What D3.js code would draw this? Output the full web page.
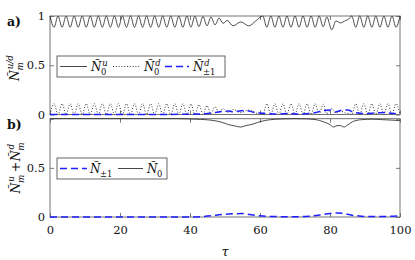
<!DOCTYPE html>
<html>
<head>
<meta charset="utf-8">
<script src="https://cdn.jsdelivr.net/npm/d3@7"></script>
<style>
  body { margin: 0; background: #fff; }
  svg text { font-family: "DejaVu Serif", serif; fill: #111; }
</style>
</head>
<body>
<div id="chart"></div>
<script>
// ---- data ----
// panel a) : solid N0^u and dotted N0^d sampled at peaks / troughs
var tauU = [0,1.15,2.3,3.45,4.6,5.75,6.9,8.05,9.2,10.35,11.5,12.65,13.8,14.95,16.1,17.25,18.4,19.55,20.7,21.85,
  23,24.15,25.3,26.45,27.6,28.75,29.9,31.05,32.2,33.35,34.5,35.65,36.8,37.95,39.1,40.25,41.4,42.55,43.7,44.85,
  46,47.15,48.3,49.45,50.6,52.3,54.5,56.8,58.8,
  60.8,61.95,63.1,64.25,65.4,66.55,67.7,68.85,70,71.15,72.3,73.45,74.6,75.75,76.9,78.05,
  79.1,80.5,81.7,83,84.5,85.4,
  86.2,87.35,88.5,89.65,90.8,91.95,93.1,94.25,95.4,96.55,97.7,98.85,100];
var n0u = [1,.885,1,.885,1,.885,1,.885,1,.885, 1,.885,1,.885,1,.885,1,.885,1,.885,
  1,.885,1,.885,1,.885,1,.885,1,.885, 1,.885,1,.885,1,.887,.998,.892,.995,.9,
  .99,.91,.98,.925,.955,.9,.94,.9,.95,
  1,.885,1,.885,1,.885,1,.885,1,.885,1,.885,1,.885,1,.89,
  .99,.86,.95,.93,.955,.97,
  1,.885,1,.885,1,.885,1,.885,1,.885,1,.885,1];
var n0d = [0,.11,0,.11,0,.11,0,.11,0,.11, 0,.11,0,.11,0,.11,0,.11,0,.11,
  0,.11,0,.11,0,.11,0,.11,0,.11, 0,.11,0,.11,0,.108,.002,.1,.004,.09,
  .008,.08,.015,.06,.02,.05,.02,.045,.015,
  0,.11,0,.11,0,.11,0,.11,0,.11,0,.11,0,.11,0,.105,
  .008,.06,.015,.035,.015,.01,
  0,.11,0,.11,0,.11,0,.11,0,.11,0,.11,0];
// panel a) : dashed N±1^d
var tauD = [0,10,20,30,38,42,45,47,49,51,52.5,54,56,58,60,62,65,68,71,74,76,78,80,81.5,83,85,87,90,93,96,98,100];
var n1d = [0,0,0,0,.002,.005,.01,.02,.03,.035,.025,.035,.04,.025,.015,.01,.005,.01,.005,.01,.02,.04,.045,.025,.04,.045,.02,.01,.015,.02,.01,.015];
// panel b) : N0 (u+d) and N±1 (u+d)
var tauB = [0,20,36,40,43,46,49,51,53,54.5,56,58,60,63,66,70,73,76,78,80,81,82,83,84,85,86.5,89,92,95,98,100];
var n0Sum = [1,1,1,.997,.993,.985,.965,.94,.925,.915,.93,.945,.97,.99,.997,1,.998,.99,.97,.94,.915,.93,.93,.915,.935,.97,.99,.995,.99,.985,.98];
var tauB1 = [0,20,40,43,46,49,52,55,57,60,63,67,71,74,77,80,82,84,86,89,92,95,98,100];
var n1Sum = [0,0,0,.003,.012,.025,.032,.035,.025,.012,.006,.003,.003,.008,.02,.035,.04,.035,.02,.008,.004,.005,.008,.01];

var xTicks = [0, 20, 40, 60, 80, 100];
var yTicks = [0, 0.5, 1];

// ---- layout ----
var w = 415, h = 260;
var left = 50, right = 400;
var blue = "#1f1fff";
var serif = '"DejaVu Serif", serif';

var svg = d3.select("#chart").append("svg").attr("width", w).attr("height", h);

var xScale = d3.scaleLinear().domain([0, 100]).range([left, right]);
var yTop = d3.scaleLinear().domain([0, 1]).range([114.5, 16]);
var yBot = d3.scaleLinear().domain([0, 1]).range([217, 118.7]);

function zip(t, v) {
  return t.map(function (d, i) { return [d, v[i]]; });
}

// axes box + inward ticks on all four sides
function drawFrame(yScale, showX, showTopLabel) {
  var y0 = yScale(0), y1 = yScale(1);
  var tk = svg.append("g").attr("class", "ticks");

  tk.append("g").attr("transform", "translate(0," + y0 + ")")
    .call(d3.axisBottom(xScale).tickValues(xTicks).tickSize(-4).tickPadding(9)
      .tickFormat(showX ? d3.format("d") : function () { return ""; }));
  tk.append("g").attr("transform", "translate(0," + y1 + ")")
    .call(d3.axisTop(xScale).tickValues(xTicks).tickSize(-4).tickFormat(""));
  tk.append("g").attr("transform", "translate(" + left + ",0)")
    .call(d3.axisLeft(yScale).tickValues(yTicks).tickSize(-4).tickPadding(5)
      .tickFormat(function (d) { return d === 1 && !showTopLabel ? "" : d; }));
  tk.append("g").attr("transform", "translate(" + right + ",0)")
    .call(d3.axisRight(yScale).tickValues(yTicks).tickSize(-4).tickFormat(""));

  tk.selectAll("g").attr("font-family", null);
  tk.selectAll(".domain").remove();
  tk.selectAll("line").attr("stroke", "#555").attr("stroke-width", 0.8);
  tk.selectAll("text").style("font-family", serif)
    .style("font-size", "11.5px").attr("fill", "#111");

  svg.append("rect")
    .attr("x", left).attr("y", y1)
    .attr("width", right - left).attr("height", y0 - y1)
    .attr("fill", "none").attr("stroke", "#666").attr("stroke-width", 0.9);
}

drawFrame(yTop, false, true);
drawFrame(yBot, true, false);

function drawLine(t, v, yScale, color, width, dash) {
  var line = d3.line()
    .x(function (d) { return xScale(d[0]); })
    .y(function (d) { return yScale(d[1]); })
    .curve(d3.curveMonotoneX);
  svg.append("path")
    .datum(zip(t, v))
    .attr("d", line)
    .attr("fill", "none")
    .attr("stroke", color)
    .attr("stroke-width", width)
    .attr("stroke-dasharray", dash || null);
}

// panel a)
drawLine(tauU, n0d, yTop, "#222", 0.9, "1,1.8");
drawLine(tauD, n1d, yTop, blue, 1.5, "7,4");
drawLine(tauU, n0u, yTop, "#222", 0.8);
// panel b)
drawLine(tauB1, n1Sum, yBot, blue, 1.5, "7,4");
drawLine(tauB, n0Sum, yBot, "#222", 0.8);

// N with tilde, subscript and superscript; returns end x
function mathN(g, x, y, sub, sup, fs) {
  var t = g.append("text").attr("x", x).attr("y", y)
    .style("font-style", "italic").style("font-size", fs + "px").text("Ñ");
  var wN = t.node().getComputedTextLength();
  var ss = fs * 0.7, endX = x + wN;
  if (sub) {
    var s = g.append("text").attr("x", x + wN - 0.5).attr("y", y + fs * 0.3)
      .style("font-size", ss + "px")
      .style("font-style", /^[a-z]/.test(sub) ? "italic" : "normal").text(sub);
    endX = Math.max(endX, x + wN - 0.5 + s.node().getComputedTextLength());
  }
  if (sup) {
    var p = g.append("text").attr("x", x + wN + 0.8).attr("y", y - fs * 0.45)
      .style("font-size", ss + "px").style("font-style", "italic").text(sup);
    endX = Math.max(endX, x + wN + 0.8 + p.node().getComputedTextLength());
  }
  return endX;
}

// legends
function legendBox(x, y, bw, bh) {
  svg.append("rect").attr("x", x).attr("y", y).attr("width", bw).attr("height", bh)
    .attr("fill", "#fff").attr("stroke", "#555").attr("stroke-width", 0.9);
}
function legendLine(x1, x2, y, color, width, dash) {
  svg.append("line").attr("x1", x1).attr("x2", x2).attr("y1", y).attr("y2", y)
    .attr("stroke", color).attr("stroke-width", width)
    .attr("stroke-dasharray", dash || null);
}

legendBox(57, 56, 168, 21);
legendBox(57, 158, 110, 21);

var lg = svg.append("g");
legendLine(60, 87, 66.5, "#333", 0.9);
mathN(lg, 91, 71, "0", "u", 12);
legendLine(113, 140, 66.5, "#222", 0.9, "1,1.8");
mathN(lg, 144, 71, "0", "d", 12);
legendLine(165, 189, 66.5, blue, 1.5, "7,4");
mathN(lg, 193, 71, "±1", "d", 12);

legendLine(60, 87, 168.5, blue, 1.5, "7,4");
mathN(lg, 90, 173, "±1", null, 12);
legendLine(118, 143, 168.5, "#333", 0.9);
mathN(lg, 147, 173, "0", null, 12);

// panel tags
svg.append("text").attr("x", 7).attr("y", 26).style("font-weight", "bold")
  .style("font-size", "12.5px").text("a)");
svg.append("text").attr("x", 7).attr("y", 129).style("font-weight", "bold")
  .style("font-size", "12.5px").text("b)");

// y labels (rotated)
var ya = svg.append("g");
var endA = mathN(ya, 0, 0, "m", "u/d", 12.5);
ya.attr("transform", "translate(19," + (68 + endA / 2) + ") rotate(-90)");

var yb = svg.append("g");
var e1 = mathN(yb, 0, 0, "m", "u", 12.5);
yb.append("text").attr("x", e1 + 2.5).attr("y", 0).style("font-size", "12.5px").text("+");
var e2 = mathN(yb, e1 + 13.5, 0, "m", "d", 12.5);
yb.attr("transform", "translate(20," + (168 + e2 / 2) + ") rotate(-90)");

// x label
svg.append("text").attr("x", (left + right) / 2).attr("y", 256)
  .attr("text-anchor", "middle").style("font-style", "italic")
  .style("font-size", "13px").text("τ");
</script>
</body>
</html>
